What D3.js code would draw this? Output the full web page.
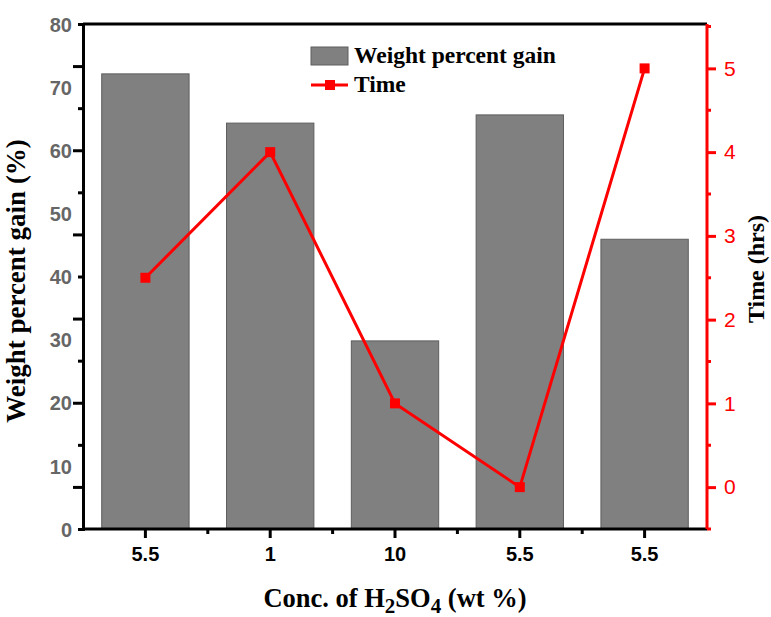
<!DOCTYPE html>
<html>
<head>
<meta charset="utf-8">
<script src="https://cdn.jsdelivr.net/npm/d3@7"></script>
<style>
  html, body { margin: 0; padding: 0; background: #fff; }
  svg { display: block; }
</style>
</head>
<body>
<div id="chart"></div>
<script>
// H2SO4 concentration for each sample (wt %)
const categories = ["5.5", "1", "10", "5.5", "5.5"];
// Weight percent gain (%) per sample — bars, left axis
const weightGain = [72.1, 64.3, 29.8, 65.6, 45.9];
// Reaction time (hrs) per sample — line, right axis
const timeHrs = [2.5, 4, 1, 0, 5];
// Axis tick labels
const leftTickLabels = [0, 10, 20, 30, 40, 50, 60, 70, 80];
const rightTickLabels = [0, 1, 2, 3, 4, 5];

const W = 771, H = 617;
const m = { left: 83, right: 64, top: 24, bottom: 88 };
const x0 = m.left, x1 = W - m.right, yTop = m.top, yBot = H - m.bottom;

const svg = d3.select("#chart").append("svg")
  .attr("width", W).attr("height", H);

const x = d3.scaleBand().domain(d3.range(categories.length))
  .range([x0, x1]).paddingInner(0.3).paddingOuter(0.15);
const yL = d3.scaleLinear().domain([0, 80]).range([yBot, yTop]);
const yR = d3.scaleLinear().domain([-0.5, 5.53]).range([yBot, yTop]);

const sans = "'Liberation Sans', Arial, sans-serif";
const serif = "'Liberation Serif', 'Times New Roman', serif";

// Bars
svg.append("g").selectAll("rect").data(weightGain).join("rect")
  .attr("x", (d, i) => x(i))
  .attr("y", d => yL(d))
  .attr("width", x.bandwidth())
  .attr("height", d => yL(0) - yL(d))
  .attr("fill", "#808080")
  .attr("stroke", "#5e5e5e")
  .attr("stroke-width", 1);

// Time line with square markers
const line = d3.line().x((d, i) => x(i) + x.bandwidth() / 2).y(d => yR(d));
svg.append("path").datum(timeHrs)
  .attr("d", line).attr("fill", "none")
  .attr("stroke", "#ff0000").attr("stroke-width", 3);
svg.append("g").selectAll("rect").data(timeHrs).join("rect")
  .attr("x", (d, i) => x(i) + x.bandwidth() / 2 - 5)
  .attr("y", d => yR(d) - 5)
  .attr("width", 10).attr("height", 10)
  .attr("fill", "#ff0000");

// Top frame line
svg.append("line").attr("x1", x0).attr("x2", x1).attr("y1", yTop).attr("y2", yTop)
  .attr("stroke", "#000").attr("stroke-width", 3);

// Left axis: tick marks every 80/12 units, labels every 10
const leftTicks = d3.range(13).map(i => i * 80 / 12);
const gL = svg.append("g").attr("transform", `translate(${x0},0)`);
gL.call(d3.axisLeft(yL).tickValues(leftTicks.filter((d, i) => i % 2 === 0)).tickSize(5).tickFormat(""));
gL.call(g => g.append("g").call(d3.axisLeft(yL).tickValues(leftTicks.filter((d, i) => i % 2 === 1)).tickSize(10).tickFormat("")));
gL.call(g => g.append("g").call(d3.axisLeft(yL).tickValues(leftTickLabels).tickSize(0).tickPadding(11).tickFormat(d3.format("d"))));
gL.selectAll(".domain").attr("stroke", "#000").attr("stroke-width", 3);
gL.selectAll("line").attr("stroke", "#000").attr("stroke-width", 3);
gL.selectAll("g g .domain").remove();
gL.selectAll("text").attr("font-family", sans).attr("font-weight", "bold")
  .attr("font-size", 20).attr("fill", "#666666").attr("dy", "0.36em");

// Bottom axis: major ticks at categories, minor between
const gB = svg.append("g").attr("transform", `translate(0,${yBot})`);
gB.call(d3.axisBottom(x).tickSize(9).tickPadding(9).tickFormat(i => categories[i]));
const minorX = d3.range(1, categories.length).map(i => (x(i - 1) + x(i) + x.bandwidth()) / 2);
gB.selectAll(".minor").data(minorX).join("line").attr("class", "minor")
  .attr("x1", d => d).attr("x2", d => d).attr("y1", 0).attr("y2", 5);
gB.select(".domain").attr("d", `M${x0},0H${x1}`);
gB.selectAll(".domain").attr("stroke", "#000").attr("stroke-width", 3);
gB.selectAll("line").attr("stroke", "#000").attr("stroke-width", 3);
gB.selectAll("text").attr("font-family", sans).attr("font-weight", "bold")
  .attr("font-size", 20).attr("fill", "#000");

// Right axis: red, integer major ticks, half-unit minor ticks
const gR = svg.append("g").attr("transform", `translate(${x1},0)`);
gR.call(d3.axisRight(yR).tickValues(rightTickLabels).tickSize(9).tickPadding(8).tickFormat(d3.format("d")));
gR.select(".domain").attr("d", `M0,${yBot}V${yTop}`);
gR.selectAll(".minorR").data(d3.range(-0.5, 5.6, 1)).join("line").attr("class", "minorR")
  .attr("x1", 0).attr("x2", 4).attr("y1", d => yR(d)).attr("y2", d => yR(d));
gR.selectAll(".domain").attr("stroke", "#ff0000").attr("stroke-width", 3);
gR.selectAll("line").attr("stroke", "#ff0000").attr("stroke-width", 3);
gR.selectAll("text").attr("font-family", sans).attr("font-size", 21).attr("fill", "#ff0000");

// Axis titles
svg.append("text")
  .attr("transform", `translate(25,281) rotate(-90)`)
  .attr("text-anchor", "middle")
  .attr("font-family", serif).attr("font-weight", "bold").attr("font-size", 27)
  .text("Weight percent gain (%)");

svg.append("text")
  .attr("transform", `translate(764,269) rotate(-90)`)
  .attr("text-anchor", "middle")
  .attr("font-family", serif).attr("font-weight", "bold").attr("font-size", 24)
  .text("Time (hrs)");

const xt = svg.append("text")
  .attr("x", (x0 + x1) / 2).attr("y", 607)
  .attr("text-anchor", "middle")
  .attr("font-family", serif).attr("font-weight", "bold").attr("font-size", 26.5);
xt.append("tspan").text("Conc. of H");
xt.append("tspan").attr("dy", 6).attr("font-size", 21).text("2");
xt.append("tspan").attr("dy", -6).text("SO");
xt.append("tspan").attr("dy", 6).attr("font-size", 21).text("4");
xt.append("tspan").attr("dy", -6).text(" (wt %)");

// Legend
const lg = svg.append("g");
lg.append("rect").attr("x", 311).attr("y", 47).attr("width", 37).attr("height", 18)
  .attr("fill", "#808080").attr("stroke", "#5e5e5e").attr("stroke-width", 1);
lg.append("text").attr("x", 354).attr("y", 63)
  .attr("font-family", serif).attr("font-weight", "bold").attr("font-size", 23.5)
  .text("Weight percent gain");
lg.append("line").attr("x1", 311).attr("x2", 348).attr("y1", 85).attr("y2", 85)
  .attr("stroke", "#ff0000").attr("stroke-width", 3);
lg.append("rect").attr("x", 325).attr("y", 80).attr("width", 10).attr("height", 10)
  .attr("fill", "#ff0000");
lg.append("text").attr("x", 354).attr("y", 92)
  .attr("font-family", serif).attr("font-weight", "bold").attr("font-size", 23.5)
  .text("Time");
</script>
</body>
</html>
